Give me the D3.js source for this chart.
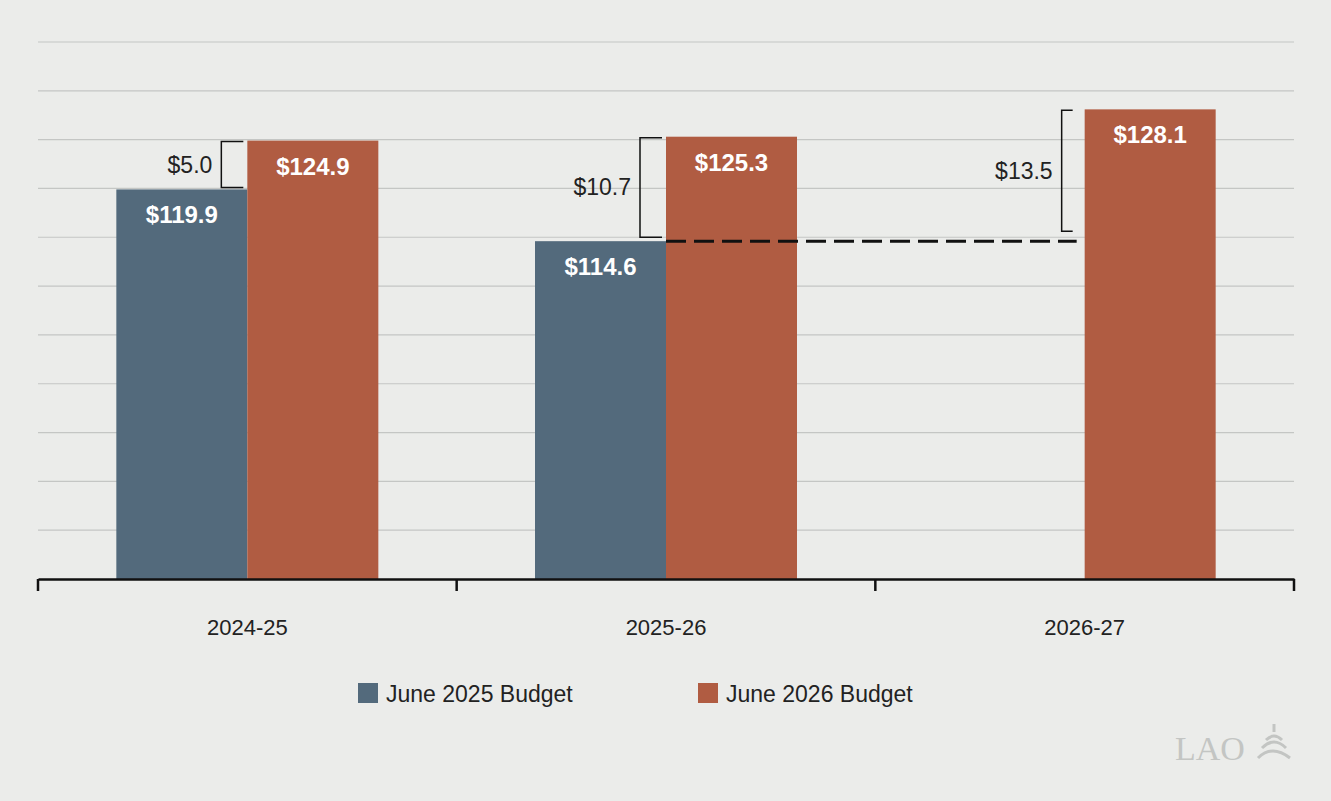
<!DOCTYPE html>
<html><head><meta charset="utf-8">
<script src="https://cdn.jsdelivr.net/npm/d3@7"></script>
<style>body{margin:0;background:#ebecea}svg{display:block}</style>
</head><body><svg id="c" width="1331" height="801"></svg>
<script>
const categories = ["2024-25","2025-26","2026-27"];
const seriesNames = ["June 2025 Budget","June 2026 Budget"];
const june2025 = [119.9,114.6,null];
const june2026 = [124.9,125.3,128.1];
const diffs = ["$5.0","$10.7","$13.5"];
const colors = ["#536a7c","#b05c42"];
const yTicks = d3.range(80,136,5);

const svg = d3.select("#c");
svg.append("rect").attr("width",1331).attr("height",801).attr("fill","#ebecea");
const L=38,R=1294,B=579;
const x = d3.scaleBand().domain(categories).range([L,R]);
const y = d3.scaleLinear().domain([80,135]).range([B,42]);
const bw = 131;

svg.append("g").selectAll("line").data(yTicks.slice(1)).join("line")
 .attr("x1",L).attr("x2",R).attr("y1",d=>y(d)).attr("y2",d=>y(d))
 .attr("stroke","#c4c6c4").attr("stroke-width",1.2);

const data=[];
categories.forEach((c,i)=>{
  if(june2025[i]!=null) data.push({c,v:june2025[i],s:0});
  data.push({c,v:june2026[i],s:1});
});
const bx = d=>{const cx=x(d.c)+x.bandwidth()/2; return d.s===0?cx-bw:(june2025[categories.indexOf(d.c)]==null?cx+bw/2+80-bw/2- (cx+bw/2+80-bw/2 - (1085)) : cx);};
function barX(d){const cx=x(d.c)+x.bandwidth()/2; if(d.s===0) return cx-bw; if(june2025[categories.indexOf(d.c)]==null) return cx; return cx;}
svg.append("g").selectAll("rect").data(data).join("rect")
 .attr("x",barX).attr("width",bw).attr("y",d=>y(d.v)).attr("height",d=>B-y(d.v))
 .attr("fill",d=>colors[d.s]);
svg.append("g").selectAll("text").data(data).join("text")
 .attr("x",d=>barX(d)+bw/2).attr("y",d=>y(d.v)+34).attr("text-anchor","middle")
 .attr("fill","#fff").attr("font-family","Liberation Sans, Arial").attr("font-weight","bold").attr("font-size",24)
 .text(d=>"$"+d.v.toFixed(1));

// dashed reference line
const cx1=x(categories[1])+x.bandwidth()/2, cx2=x(categories[2])+x.bandwidth()/2;
svg.append("line").attr("x1",cx1).attr("x2",cx2-8).attr("y1",y(june2025[1])).attr("y2",y(june2025[1]))
 .attr("stroke","#111").attr("stroke-width",3).attr("stroke-dasharray","20,8");

// brackets
const base=[june2025[0],june2025[1],june2025[1]];
categories.forEach((c,i)=>{
  const cx=x(c)+x.bandwidth()/2;
  const right = cx-4 - (i===2?8:0);
  const left = right - (i===2?11:22);
  const top=y(june2026[i])+1, bot=y(base[i])-(i===0?2:(i===1?4:10));
  svg.append("path").attr("d",`M${right},${top}H${left}V${bot}H${right}`)
   .attr("fill","none").attr("stroke","#111").attr("stroke-width",1.5);
  svg.append("text").attr("x",left-9).attr("y",(top+bot)/2+8).attr("text-anchor","end")
   .attr("font-family","Liberation Sans, Arial").attr("font-size",23).attr("fill","#222").text(diffs[i]);
});

// axis
const ax = svg.append("g").attr("transform",`translate(0,${B})`)
 .call(d3.axisBottom(x).tickSize(0).tickPadding(40));
ax.select(".domain").attr("stroke","#111").attr("stroke-width",2.5);
ax.selectAll("text").attr("font-family","Liberation Sans, Arial").attr("font-size",22).attr("fill","#222");
svg.append("g").selectAll("line").data([L,...categories.map(c=>x(c)+x.bandwidth()),]).join("line")
 .attr("x1",d=>d).attr("x2",d=>d).attr("y1",B).attr("y2",B+12).attr("stroke","#111").attr("stroke-width",2.5);

// legend
const lg=[{x:358},{x:698}];
seriesNames.forEach((n,i)=>{
  svg.append("rect").attr("x",lg[i].x).attr("y",683).attr("width",20).attr("height",20).attr("fill",colors[i]);
  svg.append("text").attr("x",lg[i].x+28).attr("y",702).attr("font-family","Liberation Sans, Arial")
   .attr("font-size",23).attr("fill","#222").text(n);
});
svg.append("text").attr("x",1175).attr("y",760).attr("font-family","Liberation Serif, serif")
 .attr("font-size",34).attr("fill","#c3c5c3").text("LAO");
svg.append("path").attr("d","M1258,758 Q1272,744 1290,758 M1262,748 Q1274,736 1286,748 M1266,740 Q1274,732 1282,740 M1274,732 V724")
 .attr("fill","none").attr("stroke","#c3c5c3").attr("stroke-width",3);
</script></body></html>
